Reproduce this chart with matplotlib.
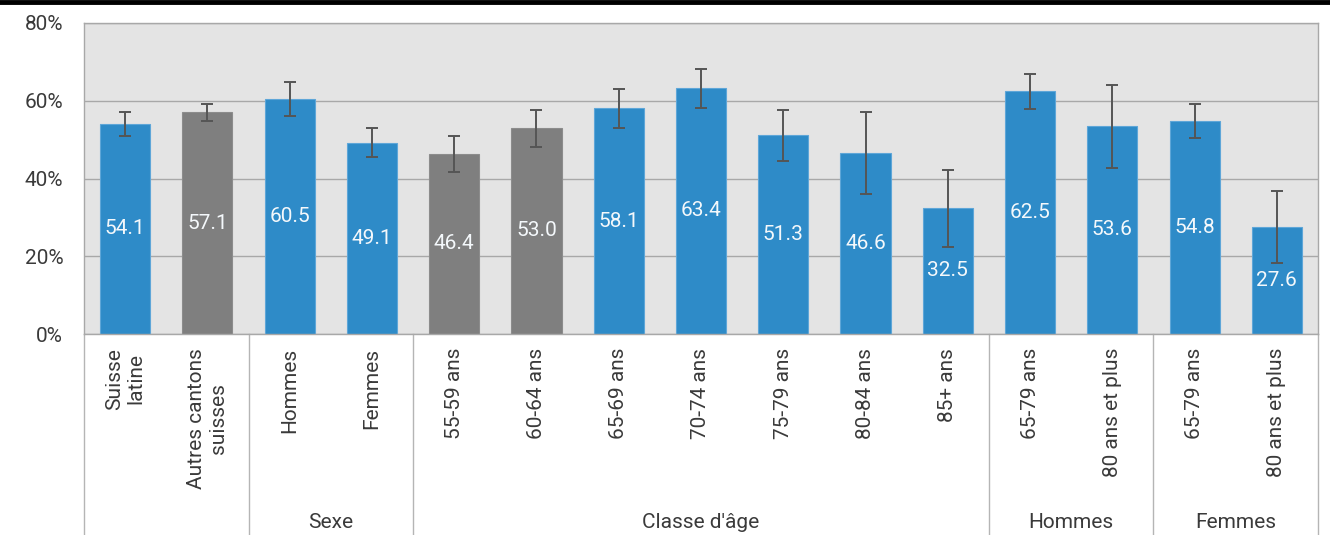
import numpy as np
import matplotlib
matplotlib.use("Agg")
import matplotlib.pyplot as plt
from matplotlib.lines import Line2D

plt.rcParams['font.family'] = ['Roboto', 'DejaVu Sans']

# categories and values
labels = ["Suisse\nlatine", "Autres cantons\nsuisses", "Hommes", "Femmes",
          "55-59 ans", "60-64 ans", "65-69 ans", "70-74 ans", "75-79 ans",
          "80-84 ans", "85+ ans", "65-79 ans", "80 ans et plus",
          "65-79 ans", "80 ans et plus"]
values = [54.1, 57.1, 60.5, 49.1, 46.4, 53.0, 58.1, 63.4, 51.3, 46.6, 32.5,
          62.5, 53.6, 54.8, 27.6]
ci_low = [51.0, 54.8, 56.0, 45.5, 41.6, 48.1, 53.0, 58.1, 44.5, 36.0, 22.5,
          57.8, 42.8, 50.4, 18.3]
ci_high = [57.0, 59.1, 64.7, 53.0, 50.9, 57.6, 63.0, 68.1, 57.6, 57.1, 42.2,
           66.8, 64.0, 59.1, 36.7]
is_gray = [False, True, False, False, True, True, False, False, False,
           False, False, False, False, False, False]

# groups: (first index, last index, label)
groups = [(0, 1, ""), (2, 3, "Sexe"), (4, 10, "Classe d'âge"),
          (11, 12, "Hommes"), (13, 14, "Femmes")]

BLUE = "#2e8bc8"
GRAY = "#7f7f7f"
TXT = "#3a3a3a"
W = "normal"

fig = plt.figure(figsize=(13.3, 5.35), dpi=100)
ax = fig.add_axes([84 / 1330, 1 - 334 / 535, (1318 - 84) / 1330, (334 - 23) / 535])
ax.set_facecolor("#e4e4e4")

x = np.arange(len(values))
colors = [GRAY if g else BLUE for g in is_gray]
edges = ["#8c8c8c" if g else "#5ea6d8" for g in is_gray]
ax.bar(x, values, width=0.61, color=colors, edgecolor=edges, linewidth=0.8, zorder=2)

vals = np.array(values)
yerr = np.vstack([vals - np.array(ci_low), np.array(ci_high) - vals])
ax.errorbar(x, vals, yerr=yerr, fmt="none", ecolor="#555555", elinewidth=1.4,
            capsize=4.6, capthick=1.4, zorder=3)

for xi, v in zip(x, values):
    ax.text(xi, v / 2, f"{v:.1f}", ha="center", va="center", color="#f4f8fb",
            fontsize=15, fontweight=W, zorder=4)

ax.set_xlim(-0.5, len(values) - 0.5)
ax.set_ylim(0, 80)
ax.set_yticks([0, 20, 40, 60, 80])
ax.set_yticklabels([f"{t}%" for t in [0, 20, 40, 60, 80]])
ax.tick_params(axis="y", length=0, pad=15, labelsize=15, labelcolor=TXT)
for lab in ax.get_yticklabels():
    lab.set_fontweight(W)
ax.yaxis.grid(True, color="#a8a8a8", linewidth=1.0, zorder=1)
ax.set_axisbelow(True)
for s in ax.spines.values():
    s.set_color("#a8a8a8")
    s.set_linewidth(1.0)

ax.set_xticks(x)
ax.set_xticklabels(labels, rotation=90, va="top", ha="center",
                   multialignment="center", fontsize=15, fontweight=W, color=TXT)
ax.tick_params(axis="x", length=0, pad=10)

# group separators and labels below the axis
sep_bottom = -(535 - 334) / (334 - 23)
bounds = [groups[0][0] - 0.5] + [g[1] + 0.5 for g in groups]
for b in bounds:
    ax.add_line(Line2D([b, b], [0, sep_bottom], transform=ax.get_xaxis_transform(),
                       color="#b5b5b5", linewidth=1.0, clip_on=False))
for g0, g1, name in groups:
    if name:
        ax.text((g0 + g1) / 2, -189 / 311, name, transform=ax.get_xaxis_transform(),
                ha="center", va="center", fontsize=15, fontweight=W, color=TXT)

# black rule on top
fig.add_artist(Line2D([0, 1], [1 - 2 / 535, 1 - 2 / 535], transform=fig.transFigure,
                      color="black", linewidth=3.5))

fig.savefig("out.png", dpi=100)
